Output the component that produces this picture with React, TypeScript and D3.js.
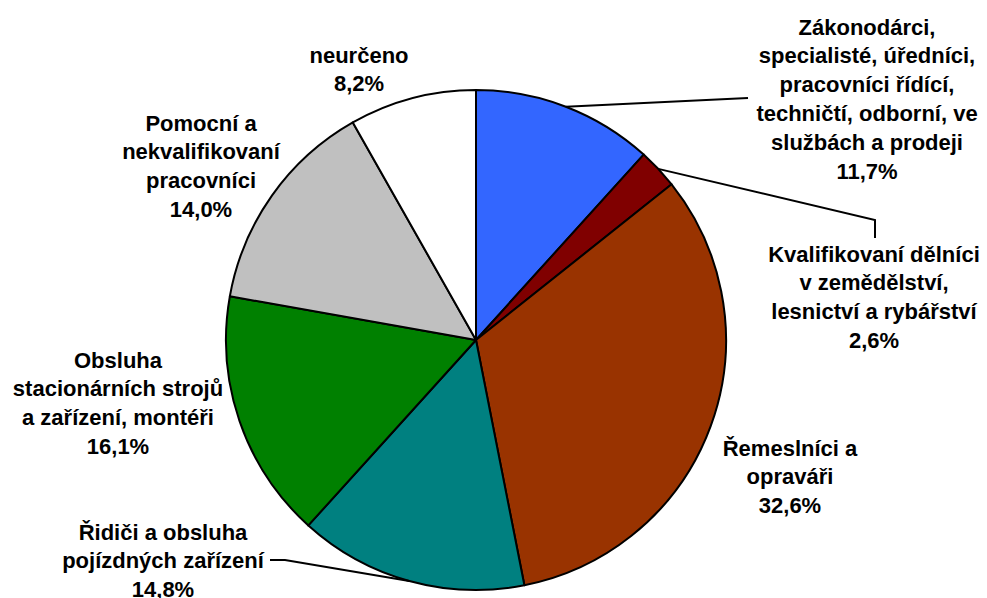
import React from "react";
import * as d3 from "d3";

const categories = [
  "Zákonodárci,\nspecialisté, úředníci,\npracovníci řídící,\ntechničtí, odborní, ve\nslužbách a prodeji",
  "Kvalifikovaní dělníci\nv zemědělství,\nlesnictví a rybářství",
  "Řemeslníci a\nopraváři",
  "Řidiči a obsluha\npojízdných zařízení",
  "Obsluha\nstacionárních strojů\na zařízení, montéři",
  "Pomocní a\nnekvalifikovaní\npracovníci",
  "neurčeno",
];
const values = [11.7, 2.6, 32.6, 14.8, 16.1, 14.0, 8.2];
const colors = ["#3366FF", "#800000", "#993300", "#008080", "#008000", "#C0C0C0", "#FFFFFF"];

// label layout: center x, first line center y
const labelPos: [number, number][] = [
  [867, 27],
  [874, 254],
  [790, 448],
  [163, 532],
  [118, 360],
  [201, 123],
  [359, 55],
];
// leader line extra points (from arc midpoint outward)
const leaders: ([number, number][] | null)[] = [
  [[748, 98]],
  [[875, 220], [875, 238]],
  null,
  [[285, 560], [270, 560]],
  null,
  null,
  null,
];

const W = 987, H = 598;
const cx = 476, cy = 340, R = 250;
const FS = 22, LH = 28.8;

export default function App() {
  const pie = d3.pie<number>().sort(null).value((d) => d);
  const arcs = pie(values);
  const arc = d3.arc<d3.PieArcDatum<number>>().innerRadius(0).outerRadius(R);
  const fmt = (v: number) => v.toFixed(1).replace(".", ",") + "%";
  return (
    <svg width={W} height={H} style={{ position: "absolute", left: 0, top: 0, background: "#fff" }}>
      <g transform={`translate(${cx},${cy})`}>
        {arcs.map((a, i) => (
          <path key={i} d={arc(a) || ""} fill={colors[i]} stroke="#000" strokeWidth={2} strokeLinejoin="round" />
        ))}
      </g>
      {arcs.map((a, i) => {
        const pts = leaders[i];
        if (!pts) return null;
        const mid = (a.startAngle + a.endAngle) / 2;
        const p0: [number, number] = [cx + R * Math.sin(mid), cy - R * Math.cos(mid)];
        const line = d3.line()([p0, ...pts]) || "";
        return <path key={"l" + i} d={line} fill="none" stroke="#000" strokeWidth={2} />;
      })}
      {categories.map((c, i) => {
        const lines = [...c.split("\n"), fmt(values[i])];
        const [x, y] = labelPos[i];
        return (
          <text key={"t" + i} x={x} y={y} textAnchor="middle" fontFamily="'Liberation Sans', Arial, sans-serif" fontWeight="bold" fontSize={FS} fill="#000">
            {lines.map((ln, j) => (
              <tspan key={j} x={x} y={y + j * LH} dominantBaseline="central">{ln}</tspan>
            ))}
          </text>
        );
      })}
    </svg>
  );
}
